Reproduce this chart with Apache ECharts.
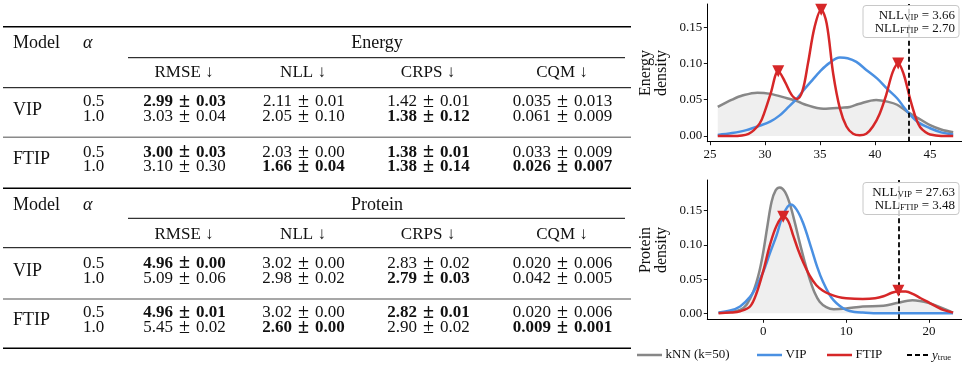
<!DOCTYPE html>
<html><head><meta charset="utf-8">
<script src="https://cdn.jsdelivr.net/npm/echarts@6/dist/echarts.min.js"></script>
<style>html,body{margin:0;padding:0;background:#fff}#c{width:962px;height:369px}</style>
</head><body><div id="c"></div>
<script>
// ---------- table data ----------
const metricNames = ['RMSE ↓', 'NLL ↓', 'CRPS ↓', 'CQM ↓'];
const metricDecimals = [2, 2, 2, 3];
const modelNames = ['VIP', 'FTIP'];
const alphaValues = ['0.5', '1.0'];
const energyMean = [[2.99, 2.11, 1.42, 0.035], [3.03, 2.05, 1.38, 0.061], [3.00, 2.03, 1.38, 0.033], [3.10, 1.66, 1.38, 0.026]];
const energyStd  = [[0.03, 0.01, 0.01, 0.013], [0.04, 0.10, 0.12, 0.009], [0.03, 0.00, 0.01, 0.009], [0.30, 0.04, 0.14, 0.007]];
const energyBold = [[1, 0, 0, 0], [0, 0, 1, 0], [1, 0, 1, 0], [0, 1, 1, 1]];
const proteinMean = [[4.96, 3.02, 2.83, 0.020], [5.09, 2.98, 2.79, 0.042], [4.96, 3.02, 2.82, 0.020], [5.45, 2.60, 2.90, 0.009]];
const proteinStd  = [[0.00, 0.00, 0.02, 0.006], [0.06, 0.02, 0.03, 0.005], [0.01, 0.00, 0.01, 0.006], [0.02, 0.00, 0.02, 0.001]];
const proteinBold = [[1, 0, 0, 0], [0, 0, 1, 0], [1, 0, 1, 0], [0, 1, 0, 1]];

// ---------- Energy density curves ----------
const eKnnX = [25.7, 27, 28, 29.3, 30.5, 32, 32.9, 33.5, 35.3, 37, 37.7, 38.5, 40.1, 41.2, 42, 42.9, 44.2, 45, 46, 47.1];
const eKnnY = [0.040, 0.050, 0.056, 0.0597, 0.058, 0.052, 0.048, 0.044, 0.0375, 0.039, 0.040, 0.044, 0.0496, 0.047, 0.043, 0.0335, 0.022, 0.015, 0.009, 0.005];
const eVipX = [25.7, 27, 28.3, 29.5, 30.5, 31.3, 32, 32.8, 33.5, 34.3, 35, 35.8, 36.8, 37.5, 38.3, 39.2, 40.2, 41.1, 42, 42.6, 43.2, 44, 45, 46, 47.1];
const eVipY = [0.0014, 0.004, 0.008, 0.014, 0.020, 0.028, 0.038, 0.050, 0.063, 0.077, 0.089, 0.100, 0.108, 0.107, 0.102, 0.091, 0.079, 0.065, 0.052, 0.040, 0.029, 0.018, 0.0106, 0.005, 0.002];
const eFtipX = [25.7, 27, 28.5, 29.5, 30.0, 30.5, 31.2, 31.8, 32.4, 32.9, 33.4, 33.9, 34.5, 35.1, 35.6, 36.2, 36.8, 37.4, 38.0, 38.6, 39.2, 39.8, 40.4, 41.0, 41.6, 42.1, 42.6, 43.2, 43.7, 44.1, 44.6, 45.0, 46.0, 47.1];
const eFtipY = [0.000, 0.000, 0.003, 0.017, 0.035, 0.058, 0.089, 0.075, 0.057, 0.051, 0.062, 0.100, 0.150, 0.174, 0.155, 0.085, 0.038, 0.013, 0.003, 0.001, 0.003, 0.013, 0.030, 0.056, 0.088, 0.100, 0.085, 0.050, 0.025, 0.012, 0.005, 0.002, 0.000, 0.000];
const eMarkX = [31.2, 35.1, 42.1];
const eMarkY = [0.089, 0.174, 0.100];
const eTrue = 43.03;
const eNll = { VIP: '3.66', FTIP: '2.70' };

// ---------- Protein density curves ----------
const pKnnX = [-5.4, -4, -2.8, -2, -1.2, -0.5, 0, 0.5, 1.0, 1.5, 2.0, 2.6, 3.2, 3.8, 4.4, 5.0, 5.6, 6.2, 6.8, 7.6, 8.5, 10, 12, 14.5, 16.1, 18, 20, 21.7, 22.9];
const pKnnY = [0.001, 0.002, 0.005, 0.013, 0.032, 0.060, 0.090, 0.128, 0.163, 0.180, 0.184, 0.178, 0.160, 0.133, 0.103, 0.075, 0.050, 0.030, 0.017, 0.009, 0.006, 0.007, 0.010, 0.011, 0.015, 0.019, 0.015, 0.007, 0.001];
const pVipX = [-5.4, -4, -2.8, -1.6, -0.8, 0, 0.8, 1.6, 2.4, 3.3, 4.0, 4.8, 5.8, 6.5, 7.2, 8.0, 8.5, 9.2, 10, 11, 12, 14, 18, 22.9];
const pVipY = [0.001, 0.004, 0.010, 0.024, 0.040, 0.061, 0.088, 0.114, 0.144, 0.159, 0.152, 0.132, 0.095, 0.068, 0.046, 0.027, 0.019, 0.011, 0.005, 0.002, 0.001, 0.000, 0.000, 0.000];
const pFtipX = [-5.4, -4, -2.8, -1.6, -0.8, 0, 0.8, 1.6, 2.4, 3.0, 3.6, 4.2, 4.8, 5.6, 6.4, 7.2, 8, 9, 10, 12, 13.5, 14.5, 15.5, 16.3, 17.2, 18.1, 19, 20.1, 21, 21.7, 22.9];
const pFtipY = [0.000, 0.001, 0.003, 0.010, 0.030, 0.062, 0.100, 0.128, 0.141, 0.135, 0.114, 0.093, 0.075, 0.055, 0.041, 0.033, 0.028, 0.024, 0.022, 0.021, 0.022, 0.025, 0.030, 0.032, 0.032, 0.028, 0.022, 0.015, 0.009, 0.005, 0.001];
const pMarkX = [2.4, 16.3];
const pMarkY = [0.141, 0.033];
const pTrue = 16.3;
const pNll = { VIP: '27.63', FTIP: '3.48' };

const energyTicksX = [25, 30, 35, 40, 45];
const proteinTicksX = [0, 10, 20];
const densityTicksY = [0, 0.05, 0.10, 0.15];

// ---------- styling ----------
const SERIF = '"Liberation Serif", "DejaVu Serif", serif';
const INK = '#111';
const GRAY = '#878787', BLUE = '#4a90e2', RED = '#d62728';
const FS = 17;

const pairs = (xs, ys) => xs.map((x, i) => [x, ys[i]]);
const g = [];
function txt(x, y, s, opt) {
  g.push(Object.assign({ type: 'text', x: x, y: y, z: 50,
    style: Object.assign({ text: s, fill: INK, font: FS + 'px ' + SERIF, align: 'left', verticalAlign: 'middle' }, (opt || {})) }));
}
function hline(x1, x2, y, w, color) {
  g.push({ type: 'line', z: 50, shape: { x1: x1, y1: y, x2: x2, y2: y }, style: { stroke: color || '#000', lineWidth: w } });
}
const colX = [184, 303, 428, 562];
function table(L, title, mean, std, bold) {
  txt(13, L.head, 'Model', { font: '18px ' + SERIF });
  txt(83, L.head, 'α', { font: 'italic 18px ' + SERIF });
  txt(377, L.head, title, { align: 'center', font: '18px ' + SERIF });
  hline(128, 625, L.cmid, 1);
  metricNames.forEach((m, j) => txt(colX[j], L.sub, m, { align: 'center' }));
  hline(3, 631, L.rule, 1);
  hline(3, 631, L.gray, 1.6, '#8a8a8a');
  modelNames.forEach((mn, k) => txt(13, L.model[k], mn, { font: '18px ' + SERIF }));
  for (let r = 0; r < 4; r++) {
    const y = L.rows[r];
    txt(83, y, alphaValues[r % 2]);
    for (let j = 0; j < 4; j++) {
      const w = bold[r][j] ? 'bold ' : '';
      const cx = colX[j];
      txt(cx - 11, y, mean[r][j].toFixed(metricDecimals[j]), { align: 'right', font: w + FS + 'px ' + SERIF });
      txt(cx + 0.5, y, '±', { align: 'center', font: w + '20px ' + SERIF });
      txt(cx + 12, y, std[r][j].toFixed(metricDecimals[j]), { align: 'left', font: w + FS + 'px ' + SERIF });
    }
  }
}
hline(3, 631, 26.7, 1.6);
table({ head: 43, cmid: 57.7, sub: 73, rule: 87.7, gray: 137.3, rows: [101.7, 116.7, 152.3, 166.7], model: [110, 159.5] },
  'Energy', energyMean, energyStd, energyBold);
hline(3, 631, 188.3, 1.6);
table({ head: 205, cmid: 218.3, sub: 235, rule: 247.7, gray: 299, rows: [263.3, 278.3, 312.7, 327.7], model: [270.8, 320] },
  'Protein', proteinMean, proteinStd, proteinBold);
hline(3, 631, 348.3, 1.6);

// y axis titles
g.push({ type: 'text', x: 654, y: 73, rotation: Math.PI / 2, z: 50,
  style: { text: 'Energy\ndensity', fill: INK, font: '16px ' + SERIF, align: 'center', verticalAlign: 'middle', lineHeight: 16 } });
g.push({ type: 'text', x: 654, y: 250, rotation: Math.PI / 2, z: 50,
  style: { text: 'Protein\ndensity', fill: INK, font: '16px ' + SERIF, align: 'center', verticalAlign: 'middle', lineHeight: 16 } });

// NLL boxes
function nllBox(y, nll) {
  g.push({ type: 'rect', z: 60, shape: { x: 863, y: y, width: 96, height: 32, r: 3 },
    style: { fill: 'rgba(255,255,255,0.82)', stroke: '#c8c8c8', lineWidth: 1 } });
  const rich = {
    n: { fontSize: 13, fontFamily: SERIF, fill: INK, lineHeight: 13 },
    s: { fontSize: 9, fontFamily: SERIF, fill: INK, lineHeight: 13, verticalAlign: 'bottom', padding: [5, 0, 0, 0] }
  };
  g.push({ type: 'text', z: 61, x: 955, y: y + 16.5,
    style: { text: '{n|NLL}{s|VIP}{n| = ' + nll.VIP + '}\n{n|NLL}{s|FTIP}{n| = ' + nll.FTIP + '}',
      rich: rich, align: 'right', verticalAlign: 'middle', fill: INK } });
}
nllBox(5.5, eNll);
nllBox(182.5, pNll);

// legend
const legY = 355;
const legItems = [
  { x: 637, color: GRAY, label: 'kNN (k=50)' },
  { x: 757, color: BLUE, label: 'VIP' },
  { x: 827, color: RED, label: 'FTIP' }
];
legItems.forEach(it => {
  g.push({ type: 'line', z: 50, shape: { x1: it.x, y1: legY, x2: it.x + 25, y2: legY }, style: { stroke: it.color, lineWidth: 2.5 } });
  g.push({ type: 'text', z: 50, x: it.x + 28.5, y: legY, style: { text: it.label, fill: INK, font: '13px ' + SERIF, verticalAlign: 'middle' } });
});
g.push({ type: 'line', z: 50, shape: { x1: 907, y1: legY, x2: 929, y2: legY }, style: { stroke: '#000', lineWidth: 1.8, lineDash: [5, 3] } });
g.push({ type: 'text', z: 50, x: 932, y: legY + 1, style: { text: '{i|y}{s|true}', verticalAlign: 'middle',
  rich: { i: { fontSize: 13, fontStyle: 'italic', fontFamily: SERIF, fill: INK, lineHeight: 12 },
          s: { fontSize: 8.5, fontFamily: SERIF, fill: INK, lineHeight: 12, verticalAlign: 'bottom', padding: [4, 0, 0, 0] } } } });

function xAxisCfg(gi, min, max, ticks) {
  return { type: 'value', gridIndex: gi, min: min, max: max,
    axisLine: { show: true, onZero: false, lineStyle: { color: '#000', width: 1 } },
    axisTick: { show: true, inside: false, length: 3.5, customValues: ticks, lineStyle: { color: '#000', width: 0.9 } },
    axisLabel: { customValues: ticks, color: INK, fontFamily: SERIF, fontSize: 13, margin: 6, formatter: v => String(v) },
    splitLine: { show: false } };
}
function yAxisCfg(gi, min, max) {
  return { type: 'value', gridIndex: gi, min: min, max: max,
    axisLine: { show: true, onZero: false, lineStyle: { color: '#000', width: 1 } },
    axisTick: { show: true, inside: false, length: 3.5, customValues: densityTicksY, lineStyle: { color: '#000', width: 0.9 } },
    axisLabel: { customValues: densityTicksY, color: INK, fontFamily: SERIF, fontSize: 13, margin: 5, formatter: v => v.toFixed(2) },
    splitLine: { show: false } };
}
function curve(name, gi, data, color, area) {
  const s = { type: 'line', name: name, xAxisIndex: gi, yAxisIndex: gi, data: data, smooth: 0.35,
    showSymbol: false, symbol: 'none', lineStyle: { color: color, width: 2.5 }, itemStyle: { color: color }, z: 3, silent: true };
  if (area) s.areaStyle = { color: 'rgba(140,140,140,0.2)' };
  return s;
}
function marks(gi, data) {
  return { type: 'scatter', xAxisIndex: gi, yAxisIndex: gi, data: data, symbol: 'triangle', symbolRotate: 180,
    symbolSize: 12, itemStyle: { color: RED, opacity: 1 }, z: 5, silent: true };
}
function trueLine(gi, x) {
  return { type: 'line', xAxisIndex: gi, yAxisIndex: gi, data: [], z: 4,
    markLine: { silent: true, symbol: 'none', label: { show: false },
      lineStyle: { color: '#000', width: 1.8, type: [5, 3] }, data: [{ xAxis: x }] } };
}

const chart = echarts.init(document.getElementById('c'), null, { renderer: 'canvas' });
chart.setOption({
  animation: false,
  backgroundColor: '#fff',
  grid: [
    { left: 707.3, right: 0, top: 4, bottom: 227.3 },
    { left: 707.3, right: 0, top: 180, bottom: 49.7 }
  ],
  xAxis: [xAxisCfg(0, 24.75, 47.9, energyTicksX), xAxisCfg(1, -6.76, 23.98, proteinTicksX)],
  yAxis: [yAxisCfg(0, -0.0079, 0.1818), yAxisCfg(1, -0.00877, 0.1949)],
  series: [
    curve('kNN (k=50)', 0, pairs(eKnnX, eKnnY), GRAY, true),
    curve('VIP', 0, pairs(eVipX, eVipY), BLUE, false),
    curve('FTIP', 0, pairs(eFtipX, eFtipY), RED, false),
    marks(0, pairs(eMarkX, eMarkY)),
    trueLine(0, eTrue),
    curve('kNN (k=50)', 1, pairs(pKnnX, pKnnY), GRAY, true),
    curve('VIP', 1, pairs(pVipX, pVipY), BLUE, false),
    curve('FTIP', 1, pairs(pFtipX, pFtipY), RED, false),
    marks(1, pairs(pMarkX, pMarkY)),
    trueLine(1, pTrue)
  ],
  graphic: { elements: g }
});
</script></body></html>
